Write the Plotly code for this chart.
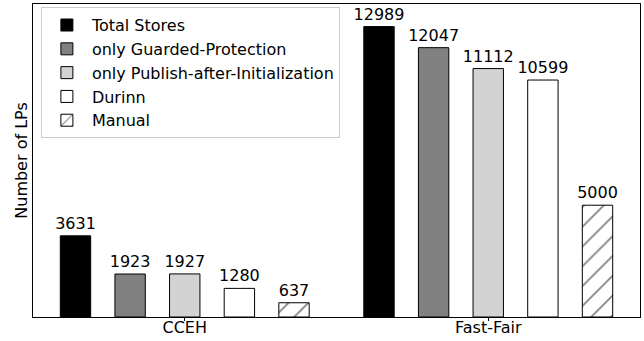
import plotly.graph_objects as go

# Benchmarks and per-configuration counts of LPs
benchmarks = ["CCEH", "Fast-Fair"]
series_names = [
    "Total Stores",
    "only Guarded-Protection",
    "only Publish-after-Initialization",
    "Durinn",
    "Manual",
]
total_stores = [3631, 12989]
only_guarded = [1923, 12047]
only_publish = [1927, 11112]
durinn = [1280, 10599]
manual = [637, 5000]

series_values = [total_stores, only_guarded, only_publish, durinn, manual]
fill_colors = ["#000000", "#808080", "#d3d3d3", "#ffffff", "#ffffff"]
hatches = ["", "", "", "", "/"]

FONT = "DejaVu Sans"

fig = go.Figure()
for name, vals, color, hatch in zip(series_names, series_values, fill_colors, hatches):
    marker = dict(color=color, line=dict(color="#000000", width=1))
    if hatch:
        marker["pattern"] = dict(shape=hatch, fgcolor="#000000", bgcolor="#ffffff",
                                 size=14, solidity=0.12)
    fig.add_trace(go.Bar(
        x=benchmarks,
        y=vals,
        name=name,
        marker=marker,
        text=[str(v) for v in vals],
        textposition="outside",
        constraintext="none",
        textfont=dict(family=FONT, size=16, color="#000000"),
        cliponaxis=False,
        legendgroup=name,
    ))

fig.update_layout(
    width=644,
    height=341,
    margin=dict(l=33, r=4, t=4, b=24, autoexpand=False),
    paper_bgcolor="#ffffff",
    plot_bgcolor="#ffffff",
    barmode="group",
    bargap=0.1,
    bargroupgap=0.444,
    font=dict(family=FONT, size=16, color="#000000"),
    showlegend=True,
    legend=dict(
        x=0.013, y=0.99, xanchor="left", yanchor="top",
        bgcolor="#ffffff", bordercolor="#cccccc", borderwidth=1,
        font=dict(family=FONT, size=16, color="#000000"),
        tracegroupgap=0,
        traceorder="normal",
        itemwidth=40,
    ),
)

fig.update_xaxes(
    type="category",
    range=[-0.5, 1.5],
    automargin=False,
    showline=True, linecolor="#000000", linewidth=1, mirror=True,
    ticks="outside", ticklen=3, tickcolor="#000000",
    ticklabelstandoff=-7,
    tickfont=dict(family=FONT, size=16, color="#000000"),
    showgrid=False, zeroline=False,
)
fig.update_yaxes(
    range=[0, 14000],
    automargin=False,
    showline=True, linecolor="#000000", linewidth=1, mirror=True,
    showticklabels=False, ticks="",
    showgrid=False, zeroline=False,
    title=dict(text="Number of LPs", font=dict(family=FONT, size=16, color="#000000"), standoff=0),
)

fig.write_html("out.html")
